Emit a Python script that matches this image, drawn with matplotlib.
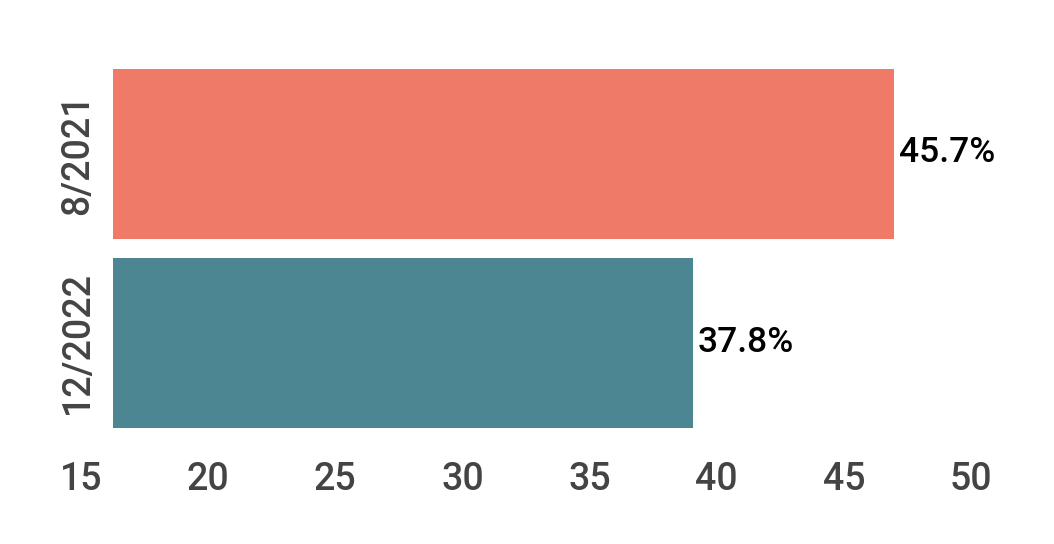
"""Horizontal bar chart: share by period (8/2021 vs 12/2022)."""

import matplotlib
matplotlib.use("Agg")
import matplotlib.pyplot as plt
import matplotlib.transforms as mtransforms

# ---------------------------------------------------------------------------
# Data
# ---------------------------------------------------------------------------
periods = ["8/2021", "12/2022"]
values = [45.7, 37.8]
bar_colors = ["#F07A68", "#4D8693"]
x_ticks = [15, 20, 25, 30, 35, 40, 45, 50]

# ---------------------------------------------------------------------------
# Figure
# ---------------------------------------------------------------------------
plt.rcParams["font.family"] = ["Roboto", "DejaVu Sans"]

W, H, DPI = 1054, 544, 100
fig = plt.figure(figsize=(W / DPI, H / DPI), dpi=DPI)
ax = fig.add_axes([113 / W, (H - 437.5) / H, (1003 - 113) / W, 378 / H])

y_pos = list(range(len(periods)))
ax.barh(y_pos, [v - 15 for v in values], left=15, height=0.9, color=bar_colors)

for y, v in zip(y_pos, values):
    ax.annotate(f"{v}%", xy=(v, y), xytext=(5, 1), textcoords="offset pixels",
                va="center", ha="left", fontsize=25.5, fontweight="medium",
                color="black")

ax.set_xlim(15, 50)
ax.set_ylim(1.5, -0.5)

ax.set_xticks(x_ticks)
ax.set_xticklabels([str(t) for t in x_ticks], fontsize=27, fontweight="medium",
                   color="#444444")
ax.set_yticks(y_pos)
ax.set_yticklabels(periods, fontsize=27, fontweight="medium", color="#444444",
                   rotation=90, va="center")

ax.tick_params(axis="x", length=0, pad=17)
ax.tick_params(axis="y", length=0, pad=12)

# x labels sit a bit left of their true positions in the reference
shift = mtransforms.ScaledTranslation(-32 / DPI, 0, fig.dpi_scale_trans)
for lbl in ax.get_xticklabels():
    lbl.set_transform(lbl.get_transform() + shift)

for spine in ax.spines.values():
    spine.set_visible(False)

fig.savefig("out.png", dpi=DPI)
